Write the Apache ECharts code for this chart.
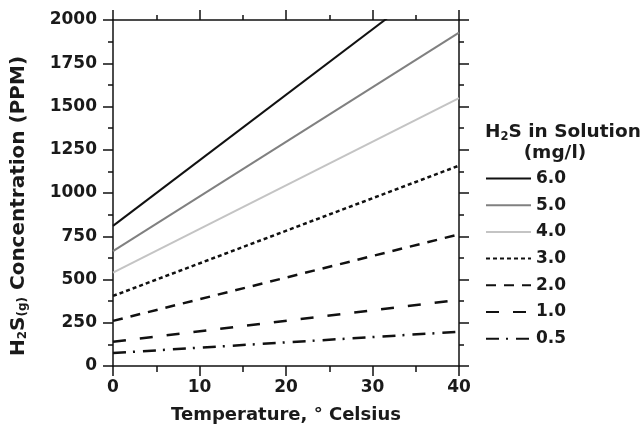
<!DOCTYPE html>
<html><head><meta charset="utf-8">
<script src="https://cdn.jsdelivr.net/npm/echarts@6/dist/echarts.min.js"></script>
<style>html,body{margin:0;padding:0;background:#fff}#c{width:643px;height:429px}</style>
</head><body><div id="c"></div>
<script>
const temps = [0, 40];
const seriesNames = ['6.0', '5.0', '4.0', '3.0', '2.0', '1.0', '0.5'];
const s60 = [810, 2325];
const s50 = [664, 1927];
const s40 = [540, 1549];
const s30 = [405, 1158];
const s20 = [261, 761];
const s10 = [140, 382];
const s05 = [75, 198];
const allValues = [s60, s50, s40, s30, s20, s10, s05];
const xTicks = [0, 10, 20, 30, 40];
const yTicks = [0, 250, 500, 750, 1000, 1250, 1500, 1750, 2000];

const styles = [
  {color:'#111', width:2, type:'solid'},
  {color:'#808080', width:2, type:'solid'},
  {color:'#c4c4c4', width:2, type:'solid'},
  {color:'#111', width:2.5, type:[4,3]},
  {color:'#111', width:2.5, type:[10,8]},
  {color:'#111', width:2.5, type:[13,14]},
  {color:'#111', width:2.5, type:[13,7,2,8]}
];
const font = 'DejaVu Sans';
const txt = '#1a1a1a';

const chart = echarts.init(document.getElementById('c'), null, {renderer:'canvas'});
const mkLine = () => ({show:true, onZero:false, lineStyle:{color:'#111', width:1.5}});
const series = seriesNames.map((n,i)=>({
  name:n, type:'line', symbol:'none', clip:true, xAxisIndex:0, yAxisIndex:0,
  data: temps.map((t,j)=>[t, allValues[i][j]]),
  lineStyle: styles[i], itemStyle:{color:styles[i].color}
}));
chart.setOption({
  animation:false,
  backgroundColor:'#fff',
  grid:{left:113, right:184, top:20, bottom:62},
  title:{
    left:485, top:122, padding:0,
    text:'H{s|2}S in Solution\n      (mg/l)',
    textStyle:{fontFamily:font, fontWeight:'bold', fontSize:18.5, color:txt, lineHeight:21,
      rich:{s:{fontSize:11.5, fontWeight:'bold', fontFamily:font, color:txt, verticalAlign:'bottom', padding:[6,0,0,0]}}}
  },
  legend:{
    orient:'vertical', left:485, top:170, padding:0, itemWidth:45, itemHeight:14, itemGap:9.7,
    itemStyle:{opacity:0},
    data:seriesNames,
    textStyle:{fontFamily:font, fontWeight:'bold', fontSize:17, color:txt}
  },
  xAxis:[{
    type:'value', min:0, max:40, interval:10, position:'bottom',
    axisLine:mkLine(), axisTick:{show:true, length:10, inside:false, lineStyle:{color:'#111', width:1.5}},
    minorTick:{show:true, splitNumber:2, length:6, lineStyle:{color:'#111', width:1.5}},
    splitLine:{show:false},
    axisLabel:{fontFamily:font, fontWeight:'bold', fontSize:17, color:txt, margin:13},
    name:'Temperature, ° Celsius', nameLocation:'middle', nameGap:40,
    nameTextStyle:{fontFamily:font, fontWeight:'bold', fontSize:18, color:txt}
  },{
    type:'value', min:0, max:40, interval:10, position:'top',
    axisLine:mkLine(), axisTick:{show:true, length:10, lineStyle:{color:'#111', width:1.5}},
    minorTick:{show:true, splitNumber:2, length:5, lineStyle:{color:'#111', width:1.5}},
    splitLine:{show:false}, axisLabel:{show:false}
  }],
  yAxis:[{
    type:'value', min:0, max:2000, interval:250, position:'left',
    axisLine:mkLine(), axisTick:{show:true, length:10, lineStyle:{color:'#111', width:1.5}},
    minorTick:{show:true, splitNumber:2, length:5, lineStyle:{color:'#111', width:1.5}},
    splitLine:{show:false},
    axisLabel:{fontFamily:font, fontWeight:'bold', fontSize:17, color:txt, margin:16, formatter:v=>String(v)},
    name:'H{s|2}S{s|(g)} Concentration (PPM)', nameLocation:'middle', nameGap:84,
    nameTextStyle:{fontFamily:font, fontWeight:'bold', fontSize:20, color:txt, padding:[0,26,0,0],
      rich:{s:{fontSize:12, fontWeight:'bold', fontFamily:font, color:txt, verticalAlign:'bottom', padding:[9,0,0,0]}}}
  },{
    type:'value', min:0, max:2000, interval:250, position:'right',
    axisLine:mkLine(), axisTick:{show:true, length:10, lineStyle:{color:'#111', width:1.5}},
    minorTick:{show:true, splitNumber:2, length:5, lineStyle:{color:'#111', width:1.5}},
    splitLine:{show:false}, axisLabel:{show:false}
  }],
  series
});
</script></body></html>
